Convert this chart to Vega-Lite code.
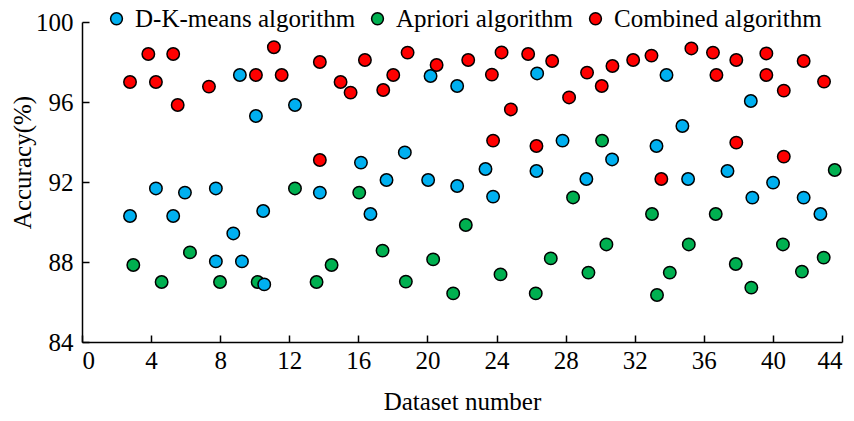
{
  "$schema": "https://vega.github.io/schema/vega-lite/v6.json",
  "width": 760,
  "height": 320,
  "autosize": "none",
  "padding": {"left": 82, "top": 22, "right": 12, "bottom": 79},
  "background": "white",
  "config": {
    "view": {"stroke": null},
    "font": "Liberation Serif"
  },
  "data": {
    "values": [
      {"series": "Apriori algorithm", "x": 2.97, "y": 87.85},
      {"series": "Apriori algorithm", "x": 4.61, "y": 87.0},
      {"series": "Apriori algorithm", "x": 6.25, "y": 88.48},
      {"series": "Apriori algorithm", "x": 7.99, "y": 87.0},
      {"series": "Apriori algorithm", "x": 10.17, "y": 87.0},
      {"series": "Apriori algorithm", "x": 12.33, "y": 91.68},
      {"series": "Apriori algorithm", "x": 13.58, "y": 87.0},
      {"series": "Apriori algorithm", "x": 14.45, "y": 87.85},
      {"series": "Apriori algorithm", "x": 16.05, "y": 91.47},
      {"series": "Apriori algorithm", "x": 17.4, "y": 88.57},
      {"series": "Apriori algorithm", "x": 18.75, "y": 87.02},
      {"series": "Apriori algorithm", "x": 20.33, "y": 88.13},
      {"series": "Apriori algorithm", "x": 21.49, "y": 86.43},
      {"series": "Apriori algorithm", "x": 22.22, "y": 89.85},
      {"series": "Apriori algorithm", "x": 24.23, "y": 87.38},
      {"series": "Apriori algorithm", "x": 26.27, "y": 86.43},
      {"series": "Apriori algorithm", "x": 27.14, "y": 88.18},
      {"series": "Apriori algorithm", "x": 28.43, "y": 91.23},
      {"series": "Apriori algorithm", "x": 29.32, "y": 87.47},
      {"series": "Apriori algorithm", "x": 30.11, "y": 94.07},
      {"series": "Apriori algorithm", "x": 30.36, "y": 88.88},
      {"series": "Apriori algorithm", "x": 33.0, "y": 90.4},
      {"series": "Apriori algorithm", "x": 33.29, "y": 86.35},
      {"series": "Apriori algorithm", "x": 34.03, "y": 87.47},
      {"series": "Apriori algorithm", "x": 35.13, "y": 88.88},
      {"series": "Apriori algorithm", "x": 36.69, "y": 90.4},
      {"series": "Apriori algorithm", "x": 37.85, "y": 87.9},
      {"series": "Apriori algorithm", "x": 38.75, "y": 86.72},
      {"series": "Apriori algorithm", "x": 40.58, "y": 88.88},
      {"series": "Apriori algorithm", "x": 41.68, "y": 87.52},
      {"series": "Apriori algorithm", "x": 42.94, "y": 88.22},
      {"series": "Apriori algorithm", "x": 43.58, "y": 92.6},
      {"series": "D-K-means algorithm", "x": 2.78, "y": 90.3},
      {"series": "D-K-means algorithm", "x": 4.28, "y": 91.68},
      {"series": "D-K-means algorithm", "x": 5.28, "y": 90.3},
      {"series": "D-K-means algorithm", "x": 5.96, "y": 91.47},
      {"series": "D-K-means algorithm", "x": 7.75, "y": 91.68},
      {"series": "D-K-means algorithm", "x": 7.75, "y": 88.03},
      {"series": "D-K-means algorithm", "x": 8.76, "y": 89.43},
      {"series": "D-K-means algorithm", "x": 9.14, "y": 97.35},
      {"series": "D-K-means algorithm", "x": 9.26, "y": 88.03},
      {"series": "D-K-means algorithm", "x": 10.07, "y": 95.3},
      {"series": "D-K-means algorithm", "x": 10.49, "y": 90.55},
      {"series": "D-K-means algorithm", "x": 10.55, "y": 86.88},
      {"series": "D-K-means algorithm", "x": 12.33, "y": 95.85},
      {"series": "D-K-means algorithm", "x": 13.77, "y": 91.47},
      {"series": "D-K-means algorithm", "x": 16.15, "y": 92.97},
      {"series": "D-K-means algorithm", "x": 16.7, "y": 90.4},
      {"series": "D-K-means algorithm", "x": 17.63, "y": 92.1},
      {"series": "D-K-means algorithm", "x": 18.69, "y": 93.48},
      {"series": "D-K-means algorithm", "x": 20.04, "y": 92.1},
      {"series": "D-K-means algorithm", "x": 20.18, "y": 97.3},
      {"series": "D-K-means algorithm", "x": 21.72, "y": 91.8},
      {"series": "D-K-means algorithm", "x": 21.72, "y": 96.8},
      {"series": "D-K-means algorithm", "x": 23.36, "y": 92.65},
      {"series": "D-K-means algorithm", "x": 23.8, "y": 91.27},
      {"series": "D-K-means algorithm", "x": 26.31, "y": 92.55},
      {"series": "D-K-means algorithm", "x": 26.35, "y": 97.43},
      {"series": "D-K-means algorithm", "x": 27.82, "y": 94.07},
      {"series": "D-K-means algorithm", "x": 29.2, "y": 92.15},
      {"series": "D-K-means algorithm", "x": 30.69, "y": 93.13},
      {"series": "D-K-means algorithm", "x": 33.26, "y": 93.8},
      {"series": "D-K-means algorithm", "x": 33.84, "y": 97.35},
      {"series": "D-K-means algorithm", "x": 34.76, "y": 94.8},
      {"series": "D-K-means algorithm", "x": 35.09, "y": 92.15},
      {"series": "D-K-means algorithm", "x": 37.37, "y": 92.55},
      {"series": "D-K-means algorithm", "x": 38.72, "y": 96.05},
      {"series": "D-K-means algorithm", "x": 38.81, "y": 91.22},
      {"series": "D-K-means algorithm", "x": 40.01, "y": 91.97},
      {"series": "D-K-means algorithm", "x": 41.78, "y": 91.22},
      {"series": "D-K-means algorithm", "x": 42.75, "y": 90.4},
      {"series": "Combined algorithm", "x": 2.78, "y": 97.0},
      {"series": "Combined algorithm", "x": 3.84, "y": 98.4},
      {"series": "Combined algorithm", "x": 4.28, "y": 97.0},
      {"series": "Combined algorithm", "x": 5.28, "y": 98.4},
      {"series": "Combined algorithm", "x": 5.54, "y": 95.85},
      {"series": "Combined algorithm", "x": 7.35, "y": 96.77},
      {"series": "Combined algorithm", "x": 10.07, "y": 97.35},
      {"series": "Combined algorithm", "x": 11.11, "y": 98.74},
      {"series": "Combined algorithm", "x": 11.56, "y": 97.35},
      {"series": "Combined algorithm", "x": 13.77, "y": 98.0},
      {"series": "Combined algorithm", "x": 13.77, "y": 93.1},
      {"series": "Combined algorithm", "x": 14.97, "y": 97.0},
      {"series": "Combined algorithm", "x": 15.55, "y": 96.47},
      {"series": "Combined algorithm", "x": 16.38, "y": 98.1},
      {"series": "Combined algorithm", "x": 17.44, "y": 96.6},
      {"series": "Combined algorithm", "x": 18.02, "y": 97.35},
      {"series": "Combined algorithm", "x": 18.85, "y": 98.47},
      {"series": "Combined algorithm", "x": 20.53, "y": 97.85},
      {"series": "Combined algorithm", "x": 22.36, "y": 98.1},
      {"series": "Combined algorithm", "x": 23.73, "y": 97.37},
      {"series": "Combined algorithm", "x": 23.8, "y": 94.07},
      {"series": "Combined algorithm", "x": 24.29, "y": 98.48},
      {"series": "Combined algorithm", "x": 24.83, "y": 95.63},
      {"series": "Combined algorithm", "x": 25.83, "y": 98.4},
      {"series": "Combined algorithm", "x": 26.31, "y": 93.8},
      {"series": "Combined algorithm", "x": 27.22, "y": 98.05},
      {"series": "Combined algorithm", "x": 28.2, "y": 96.23},
      {"series": "Combined algorithm", "x": 29.24, "y": 97.47},
      {"series": "Combined algorithm", "x": 30.09, "y": 96.8},
      {"series": "Combined algorithm", "x": 30.71, "y": 97.8},
      {"series": "Combined algorithm", "x": 31.91, "y": 98.1},
      {"series": "Combined algorithm", "x": 32.97, "y": 98.32},
      {"series": "Combined algorithm", "x": 33.54, "y": 92.15},
      {"series": "Combined algorithm", "x": 35.28, "y": 98.68},
      {"series": "Combined algorithm", "x": 36.53, "y": 98.47},
      {"series": "Combined algorithm", "x": 36.73, "y": 97.35},
      {"series": "Combined algorithm", "x": 37.88, "y": 98.1},
      {"series": "Combined algorithm", "x": 37.88, "y": 93.97},
      {"series": "Combined algorithm", "x": 39.62, "y": 98.43},
      {"series": "Combined algorithm", "x": 39.62, "y": 97.35},
      {"series": "Combined algorithm", "x": 40.63, "y": 96.57},
      {"series": "Combined algorithm", "x": 40.63, "y": 93.27},
      {"series": "Combined algorithm", "x": 41.78, "y": 98.05},
      {"series": "Combined algorithm", "x": 42.96, "y": 97.02}
    ]
  },
  "mark": {"type": "point", "filled": true, "stroke": "black", "strokeWidth": 1.5, "size": 155, "opacity": 1},
  "encoding": {
    "x": {
      "field": "x", "type": "quantitative",
      "scale": {"domain": [0, 44], "nice": false, "zero": false},
      "axis": {
        "title": "Dataset number", "values": [0, 4, 8, 12, 16, 20, 24, 28, 32, 36, 40, 44],
        "grid": false, "domainColor": "black", "domainWidth": 1.5, "tickColor": "black", "tickWidth": 1.5,
        "tickSize": -7, "labelPadding": 13, "labelFontSize": 25, "labelColor": "black", "labelFont": "Liberation Serif",
        "titleFontSize": 25, "titleFontWeight": "normal", "titleColor": "black", "titleFont": "Liberation Serif", "titlePadding": 16
      }
    },
    "y": {
      "field": "y", "type": "quantitative",
      "scale": {"domain": [84, 100], "nice": false, "zero": false},
      "axis": {
        "title": "Accuracy(%)", "values": [84, 88, 92, 96, 100],
        "grid": false, "domainColor": "black", "domainWidth": 1.5, "tickColor": "black", "tickWidth": 1.5,
        "tickSize": -7, "labelPadding": 16, "labelFontSize": 25, "labelColor": "black", "labelFont": "Liberation Serif",
        "titleFontSize": 25, "titleFontWeight": "normal", "titleColor": "black", "titleFont": "Liberation Serif",
        "titleX": -47, "titleY": 140
      }
    },
    "color": {
      "field": "series", "type": "nominal",
      "scale": {"domain": ["D-K-means algorithm", "Apriori algorithm", "Combined algorithm"], "range": ["#00B0F0", "#00B050", "#FF0000"]},
      "legend": {
        "title": null, "orient": "none", "direction": "horizontal", "legendX": 22, "legendY": -16,
        "labelFontSize": 25, "labelFont": "Liberation Serif", "labelColor": "black", "symbolSize": 140,
        "symbolStrokeColor": "black", "symbolStrokeWidth": 1.5, "symbolType": "circle", "columnPadding": 9, "labelOffset": 6,
        "labelLimit": 400
      }
    }
  }
}
